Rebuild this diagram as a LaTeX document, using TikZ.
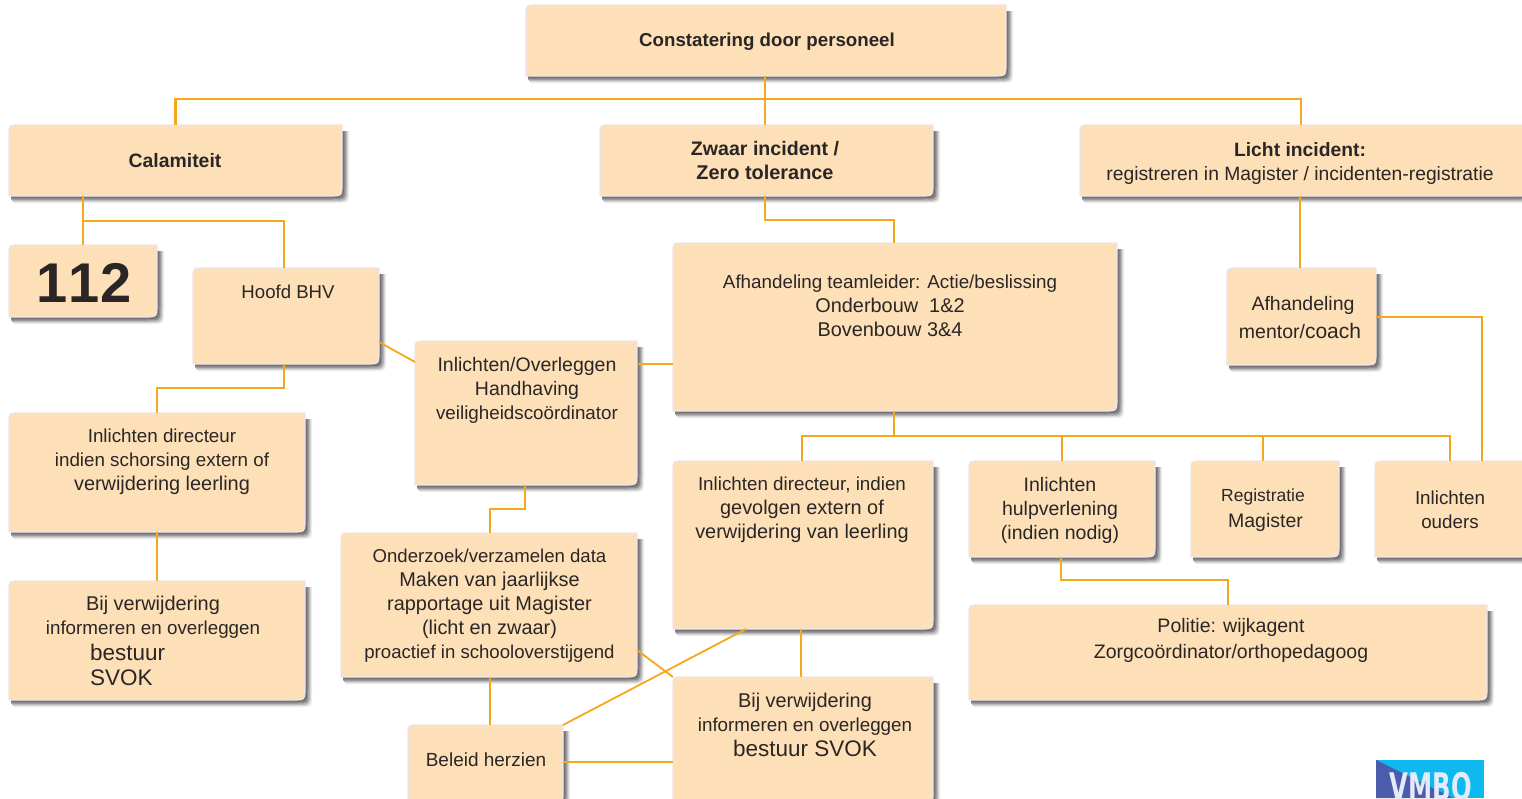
\documentclass[tikz,border=0pt]{standalone}
\usepackage{fontspec}
\setmainfont{Liberation Sans}
\newfontfamily\logofont{DejaVu Sans Condensed}
\definecolor{boxfill}{HTML}{FDE0B7}
\definecolor{boxedge}{HTML}{EFE2EE}
\definecolor{conn}{HTML}{F5A81C}
\definecolor{ink}{HTML}{2A2626}
\definecolor{logosky}{HTML}{0DB9EE}
\definecolor{logodark}{HTML}{4A5CAB}
\definecolor{logotext}{HTML}{E4EAF8}
\newcommand\wideline[1]{{\fontsize{19.9}{24}\selectfont #1}}
\tikzset{
  x=1pt,y=-1pt,
  anchorbox/.style={inner sep=0pt,outer sep=0pt},
  lab/.style={font=\fontsize{#1}{24}\selectfont,text=ink,align=center,inner sep=0pt},
  lab/.default=18.8,
  labbold/.style={lab,font=\fontsize{#1}{24}\selectfont\bfseries},
  labbig/.style={lab,font=\fontsize{22.5}{25}\selectfont},
  link/.style={draw=conn,line width=2.8pt},
  linkthin/.style={draw=conn,line width=1.8pt},
}
\newcommand\boxpath[4]{(#1,#4) -- (#1,#2+10) .. controls (#1,#2) .. (#1+10,#2) -- (#3,#2) -- (#3,#4-13) .. controls (#3,#4) .. (#3-13,#4) -- cycle}
\newcommand\bx[5]{%
  \fill[black!7] \boxpath{#2+5}{#3+6}{#4+7}{#5+7};
  \fill[black!14] \boxpath{#2+4}{#3+6}{#4+6}{#5+6};
  \fill[black!28] \boxpath{#2+3}{#3+6}{#4+5}{#5+5};
  \fill[black!45] \boxpath{#2+2}{#3+6}{#4+3.5}{#5+3.5};
  \fill[black!55] \boxpath{#2+2}{#3+6}{#4+2}{#5+2};
  \filldraw[fill=boxfill,draw=boxedge,line width=1.2pt] \boxpath{#2}{#3}{#4}{#5};
  \node[anchorbox,minimum width=#4-#2,minimum height=#5-#3] (#1) at ({(#2+#4)/2},{(#3+#5)/2}) {};
}
\begin{document}
\begin{tikzpicture}
\useasboundingbox (0,0) rectangle (1522,798);
\fill[white] (0,0) rectangle (1522,798);
% boxes
\bx{top}{526}{5}{1006}{76}
\bx{calam}{9}{125}{342}{196}
\bx{zwaar}{600}{125}{933}{196}
\bx{licht}{1080}{125}{1530}{196}
\bx{nood}{9}{245}{157}{317}
\bx{bhv}{193}{268}{379}{364}
\bx{team}{673}{243}{1117}{411}
\bx{mentor}{1227}{268}{1376}{365}
\bx{handh}{415}{341}{637}{485}
\bx{dirl}{9}{413}{305}{532}
\bx{verwl}{9}{581}{305}{700}
\bx{onderz}{341}{533}{637}{677}
\bx{dirm}{673}{461}{933}{629}
\bx{hulp}{969}{461}{1155}{557}
\bx{regis}{1191}{461}{1339}{557}
\bx{ouders}{1375}{461}{1530}{557}
\bx{polit}{969}{605}{1487}{700}
\bx{verwm}{673}{677}{933}{805}
\bx{beleid}{408}{725}{563}{805}
% connectors
\coordinate (topbus) at (765,99);
\coordinate (calbus) at (83,221);
\coordinate (zwbus) at (765,220);
\coordinate (bhvbus) at (284,388);
\coordinate (teambus) at (894,436);
\coordinate (hulpbus) at (1061,580);
\coordinate (handbus) at (525,509);
\draw[link] (top.south -| topbus) -- (topbus);
\draw[link] (calam.north) |- (topbus) -| (licht.north -| 1301,0);
\draw[link] (topbus) -- (zwaar.north -| topbus);
\draw[link] (calam.south -| calbus) -- (nood.north -| calbus);
\draw[link] (calbus) -| ([xshift=-2pt]bhv.north -| 286,0);
\draw[link] ([xshift=-2pt]bhv.south) |- (bhvbus -| 157,0) -- (dirl.north -| 157,0);
\draw[linkthin] (bhv.east |- 0,342) -- (handh.west |- 0,362);
\draw[link] (handh.east |- 0,364) -- (team.west |- 0,364);
\draw[link] (zwaar.south -| zwbus) -- (zwbus) -| (team.north -| teambus);
\draw[link] (licht.south -| 1300,0) -- (mentor.north -| 1300,0);
\draw[link] (mentor.east |- 0,317) -| (ouders.north -| 1482,0);
\draw[link] (team.south -| teambus) -- (teambus);
\draw[link] (dirm.north -| 802,0) |- (teambus) -| (ouders.north -| 1450,0);
\draw[link] (teambus -| 1062,0) -- (hulp.north -| 1062,0);
\draw[link] (teambus -| 1263,0) -- (regis.north -| 1263,0);
\draw[link] (hulp.south -| hulpbus) |- (hulpbus -| 1228,0) -- (polit.north -| 1228,0);
\draw[link] (handh.south -| handbus) -- (handbus) -| (onderz.north -| 490,0);
\draw[link] (dirl.south -| 157,0) -- (verwl.north -| 157,0);
\draw[link] (onderz.south -| 490,0) -- (beleid.north -| 490,0);
\draw[link] (dirm.south -| 801,0) -- (verwm.north -| 801,0);
\draw[linkthin] (beleid.north east) -- (dirm.south west -| 746,0);
\draw[linkthin] (onderz.east |- 0,650) -- (verwm.north west);
\draw[link] (beleid.east |- 0,762) -- (verwm.west |- 0,762);
% texts
\node[labbold=18.7] (ttop) at (767,42) {Constatering door personeel};
\node[labbold=19.4] (tcalam) at (175,161) {Calamiteit};
\node[labbold=19.6] (tzwaar) at (765,160) {Zwaar incident /\\\wideline{Zero tolerance}};
\node[lab=19.3] (tlicht) at (1300,163.5) {\textbf{Licht incident:}\\registreren in Magister / incidenten-registratie};
\node[lab,font=\fontsize{56}{60}\selectfont\bfseries] (tnood) at (84,283) {1\kern1pt1\kern1pt2};
\node[lab=18.6] (tbhv) at (288,292) {Hoofd BHV};
\node[lab] (tteam) at (890,305.5) {Afhandeling teamleider: Actie/beslissing\\\wideline{Onderbouw\ \ 1\&2}\\\wideline{Bovenbouw 3\&4}};
\node[lab=19.5] (tmentor1) at (1303,305) {Afhandeling};
\node[lab=19.5] (tmentor2) at (1300,331) {mentor/\fontsize{21}{27}\selectfont coach};
\node[lab=19.5] (thandh) at (527,390) {Inlichten/Overleggen\\Handhaving\\\fontsize{18.8}{24}\selectfont veiligheidscoördinator};
\node[lab] (tdirl) at (162,462) {Inlichten directeur\\indien schorsing extern of\\\wideline{verwijdering leerling}};
\node[lab] (tverwl1) at (153,617) {\wideline{Bij verwijdering}\\informeren en overleggen};
\node[labbig,align=left,anchor=west] (tverwl2) at (90,664.5) {bestuur\\SVOK};
\node[lab=18.6] (tonderz) at (489.5,606) {Onderzoek/verzamelen data\\\wideline{Maken van jaarlijkse}\\\wideline{rapportage uit Magister}\\\wideline{(licht en zwaar)}\\proactief in schooloverstijgend};
\node[lab] (tdirm) at (802,510) {Inlichten directeur, indien\\\wideline{gevolgen extern of}\\\wideline{verwijdering van leerling}};
\node[lab=19.5] (thulp) at (1060,510) {Inlichten\\hulpverlening\\(indien nodig)};
\node[lab=17.5] (tregis1) at (1263,497) {Registratie};
\node[lab=19.5] (tregis2) at (1265.5,522) {Magister};
\node[lab] (touders) at (1450,510) {Inlichten\\ouders};
\node[lab=19.5] (tpolit1) at (1231,627) {Politie: wijkagent};
\node[lab=19.5] (tpolit2) at (1231,653) {Zorgcoördinator/orthopedagoog};
\node[lab] (tverwm1) at (805,714) {\wideline{Bij verwijdering}\\informeren en overleggen};
\node[labbig] (tverwm2) at (805,748) {bestuur SVOK};
\node[lab=19] (tbeleid) at (486,760) {Beleid herzien};
% logo
\begin{scope}
\clip (1376,760) rectangle (1484,798);
\fill[logosky] (1376,760) rectangle (1484,798);
\fill[logodark] (1376,760) -- (1453,798) -- (1376,798) -- cycle;
\node[anchor=base,inner sep=0pt,text=logotext,xscale=0.71,font=\fontsize{38}{38}\logofont\bfseries] (logotxt) at (1431,800) {VMBO};
\end{scope}
\end{tikzpicture}
\end{document}
